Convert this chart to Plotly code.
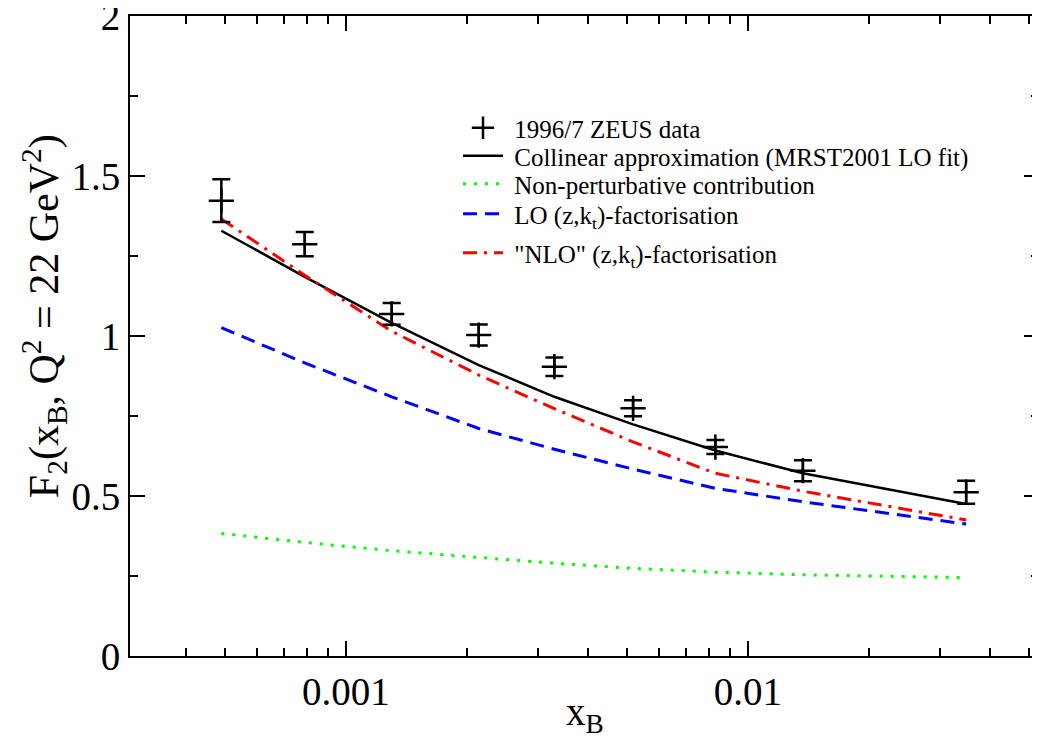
import plotly.graph_objects as go

# ---- data ----
x_B = [0.00049, 0.00079, 0.00130, 0.00214, 0.00330, 0.00518, 0.0083, 0.0137, 0.0349]
zeus_F2 = [1.423, 1.287, 1.069, 1.003, 0.904, 0.774, 0.653, 0.579, 0.512]
zeus_err = [0.067, 0.038, 0.034, 0.033, 0.029, 0.025, 0.022, 0.033, 0.036]
collinear = [1.329, 1.185, 1.041, 0.909, 0.810, 0.724, 0.642, 0.571, 0.475]
nonpert = [0.383, 0.355, 0.329, 0.308, 0.290, 0.274, 0.262, 0.254, 0.245]
lo_kt = [1.026, 0.916, 0.810, 0.711, 0.646, 0.584, 0.524, 0.482, 0.4125]
nlo_kt = [1.366, 1.190, 1.015, 0.878, 0.773, 0.669, 0.571, 0.515, 0.425]

x_major_ticks = [0.001, 0.01]
x_major_labels = ["0.001", "0.01"]
x_minor_ticks = [0.0004, 0.0005, 0.0006, 0.0007, 0.0008, 0.0009,
                 0.002, 0.003, 0.004, 0.005, 0.006, 0.007, 0.008, 0.009,
                 0.02, 0.03, 0.04, 0.05]
y_major_ticks = [0, 0.5, 1, 1.5, 2]
y_major_labels = ["0", "0.5", "1", "1.5", "2"]
y_minor_ticks = [0.25, 0.75, 1.25, 1.75]

FONT = "Liberation Serif"
NB = "\u00a0"

# page body margin of the html page shifts the figure by 8 px
OFF = 8
# desired plot-area edges in page pixels
PL, PR, PT, PB = 130, 1039, 16, 656
L = PL - OFF
T = PT - OFF
R = 1040 - (PR - OFF)
B = 741 - (PB - OFF)
W = PR - PL
H = PB - PT
legend_rows_px = [128, 156, 184, 214, 253]
legend_left_px = 458


def ly(py):
    return (PB - py) / H


fig = go.Figure()

fig.add_trace(go.Scatter(
    x=x_B, y=collinear, mode="lines", name=NB + "Collinear approximation (MRST2001 LO fit)",
    line=dict(color="black", width=2.5), legend="legend2"))
fig.add_trace(go.Scatter(
    x=x_B, y=nonpert, mode="lines", name=NB + "Non-perturbative contribution",
    line=dict(color="#00ff00", width=3, dash="3px,8px"), legend="legend3"))
fig.add_trace(go.Scatter(
    x=x_B, y=lo_kt, mode="lines", name=NB + "LO (z,k<sub>t</sub>)-factorisation",
    line=dict(color="#0000ff", width=3, dash="14px,8px"), legend="legend4"))
fig.add_trace(go.Scatter(
    x=x_B, y=nlo_kt, mode="lines", name=NB + "\"NLO\" (z,k<sub>t</sub>)-factorisation",
    line=dict(color="#ff0000", width=3, dash="14px,7px,3px,7px"), legend="legend5"))
fig.add_trace(go.Scatter(
    x=x_B, y=zeus_F2, mode="markers", name=NB + "1996/7 ZEUS data",
    marker=dict(symbol="cross-thin", size=18, color="black",
                line=dict(color="black", width=2.5)),
    error_y=dict(type="data", array=zeus_err, visible=True, color="black",
                 thickness=2.5, width=9),
    legend="legend"))

legend_common = dict(xanchor="left", yanchor="middle", bgcolor="rgba(0,0,0,0)",
                     borderwidth=0, font=dict(family=FONT, size=25, color="black"),
                     itemwidth=40)
lx = (legend_left_px - PL) / W
legends = {}
for i, key in enumerate(["legend", "legend2", "legend3", "legend4", "legend5"]):
    legends[key] = dict(x=lx, y=ly(legend_rows_px[i]), **legend_common)

fig.update_layout(
    width=1040, height=741,
    margin=dict(l=L, r=R, t=T, b=B, autoexpand=False),
    paper_bgcolor="white", plot_bgcolor="white",
    font=dict(family=FONT, color="black", size=39),
    showlegend=True,
    **legends,
    xaxis=dict(
        type="log", range=[-3.537, -1.276], automargin=False,
        showline=True, linecolor="black", linewidth=2, mirror="ticks",
        showgrid=False, zeroline=False,
        tickmode="array", tickvals=x_major_ticks, ticktext=x_major_labels,
        ticks="inside", ticklen=15, tickwidth=2, tickcolor="black",
        tickfont=dict(family=FONT, size=39), ticklabeloverflow="allow",
        minor=dict(tickmode="array", tickvals=x_minor_ticks, ticks="inside",
                   ticklen=8, tickwidth=2, tickcolor="black", showgrid=False),
    ),
    yaxis=dict(
        range=[0, 2], automargin=False,
        showline=True, linecolor="black", linewidth=2, mirror="ticks",
        showgrid=False, zeroline=False,
        tickmode="array", tickvals=y_major_ticks, ticktext=y_major_labels,
        ticks="inside", ticklen=15, tickwidth=2, tickcolor="black",
        tickfont=dict(family=FONT, size=39), ticklabeloverflow="allow",
        minor=dict(tickmode="array", tickvals=y_minor_ticks, ticks="inside",
                   ticklen=8, tickwidth=2, tickcolor="black", showgrid=False),
    ),
    annotations=[
        dict(text="F<sub>2</sub>(x<sub>B</sub>, Q<sup>2</sup> = 22 GeV<sup>2</sup>)",
             xref="paper", yref="paper", x=0, y=0.531, xanchor="center", yanchor="middle",
             xshift=-86, textangle=-90, showarrow=False,
             font=dict(family=FONT, size=42, color="black")),
        dict(text="x<sub>B</sub>", xref="paper", yref="paper", x=0.5, y=0,
             xanchor="center", yanchor="middle", yshift=-58, showarrow=False,
             font=dict(family=FONT, size=39, color="black")),
    ],
)

fig.write_html("out.html")
